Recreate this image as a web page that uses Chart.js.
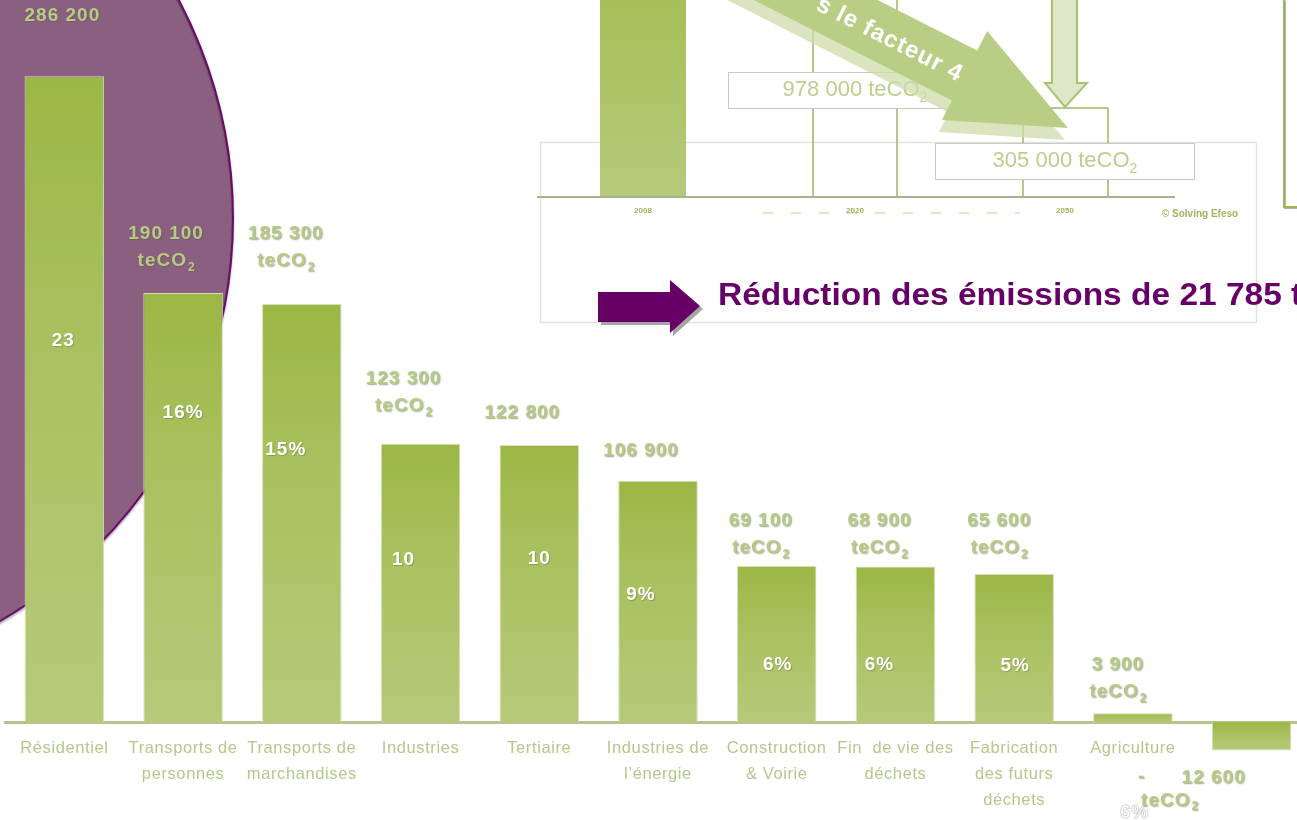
<!DOCTYPE html>
<html lang="fr">
<head>
<meta charset="utf-8">
<title>Émissions par secteur</title>
<script src="https://cdn.jsdelivr.net/npm/chart.js@4.4.1/dist/chart.umd.min.js"></script>
<style>
  html, body { margin:0; padding:0; background:#fff; overflow:hidden; }
  #wrap { position:relative; width:1311px; height:820px; }
</style>
</head>
<body>
<div id="wrap"><canvas id="chart"></canvas></div>
<script>
// --- Data ---
const CATEGORIES = [
  ['Résidentiel'],
  ['Transports de', 'personnes'],
  ['Transports de', 'marchandises'],
  ['Industries'],
  ['Tertiaire'],
  ['Industries de', 'l’énergie'],
  ['Construction', '& Voirie'],
  ['Fin  de vie des', 'déchets'],
  ['Fabrication', 'des futurs', 'déchets'],
  ['Agriculture'],
  ['']
];
const EMISSIONS = [286200, 190100, 185300, 123300, 122800, 106900, 69100, 68900, 65600, 3900, -12600];
const UNIT_SHOWN = [false, true, true, true, false, false, true, true, true, true, true];
const SHARES = ['23', '16%', '15%', '10', '10', '9%', '6%', '6%', '5%', '', ''];
const Y_MAX = 320000;

// inset picture (trajectory 2008 -> 2050)
const INSET_YEARS = ['2008', '2020', '2050'];
const INSET_TOTALS = ['978 000', '305 000'];
const HEADLINE = 'Réduction des émissions de 21 785 teCO2';

// --- label layout, px relative to each bar (style only) ---
const VALUE_LIFT = [60, 59, 70, 65, 32, 30, 45, 46, 53, 48, 0];
const VALUE_DX   = [-2, -17, -16, -17, -17, -17, -16, -16, -15, -15, 0];
const SHARE_DROP = [265, 120, 146, 116, 114, 114, 99, 98, 92, 0, 0];
const SHARE_DX   = [-1, 0, -16, -17, 0, -17, 1, -16, 1, 0, 0];

const FONT = '"Liberation Sans", Arial, sans-serif';
const LABEL_GREEN = '#B7CB84';
const BAR_TOP = '#9BB744', BAR_BOTTOM = '#B6CA7A';

function fmt(n){ return Math.abs(n).toString().replace(/\B(?=(\d{3})+(?!\d))/g, ' '); }

function barFill(c){
  const chart = c.chart;
  if(!chart.chartArea || c.type !== 'data') return BAR_TOP;
  const y = chart.scales.y;
  const a = y.getPixelForValue(c.raw), b = y.getPixelForValue(0);
  const g = chart.ctx.createLinearGradient(0, Math.min(a,b), 0, Math.max(a,b) + 1);
  g.addColorStop(0, BAR_TOP);
  g.addColorStop(0.35, '#A7C05C');
  g.addColorStop(1, BAR_BOTTOM);
  return g;
}

function softText(ctx, txt, x, y, color){
  ctx.save();
  ctx.shadowColor = 'rgba(90,95,70,0.55)';
  ctx.shadowOffsetX = 1; ctx.shadowOffsetY = 1; ctx.shadowBlur = 1.5;
  ctx.fillStyle = color;
  ctx.fillText(txt, x, y);
  ctx.restore();
}

function drawUnit(ctx, cx, cy, size, color){
  ctx.save();
  ctx.font = `bold ${size}px ${FONT}`;
  const w1 = ctx.measureText('teCO').width;
  ctx.font = `bold ${Math.round(size*0.65)}px ${FONT}`;
  const w2 = ctx.measureText('2').width;
  const x0 = cx - (w1 + w2) / 2;
  ctx.textAlign = 'left';
  ctx.font = `bold ${size}px ${FONT}`;
  softText(ctx, 'teCO', x0, cy, color);
  ctx.font = `bold ${Math.round(size*0.65)}px ${FONT}`;
  softText(ctx, '2', x0 + w1 + 1, cy + size*0.35, color);
  ctx.restore();
}

// light unit text, not bold (inset boxes)
function insetTotal(ctx, value, cx, cy){
  ctx.save();
  ctx.fillStyle = '#BAD08C';
  ctx.textBaseline = 'middle';
  ctx.font = `22px ${FONT}`;
  const main = value + ' teCO';
  const w1 = ctx.measureText(main).width;
  ctx.font = `14px ${FONT}`;
  const w2 = ctx.measureText('2').width;
  const x0 = cx - (w1 + w2) / 2;
  ctx.textAlign = 'left';
  ctx.font = `22px ${FONT}`;
  ctx.fillText(main, x0, cy);
  ctx.font = `14px ${FONT}`;
  ctx.fillText('2', x0 + w1, cy + 8);
  ctx.restore();
}

function arrowPath(ctx, len, headLen, headHalf, shaftHalf){
  ctx.beginPath();
  ctx.moveTo(0, 0);
  ctx.lineTo(-headLen, -headHalf);
  ctx.lineTo(-headLen, -shaftHalf);
  ctx.lineTo(-len, -shaftHalf);
  ctx.lineTo(-len, shaftHalf);
  ctx.lineTo(-headLen, shaftHalf);
  ctx.lineTo(-headLen, headHalf);
  ctx.closePath();
}

// background: purple disc, inset trajectory picture, headline
const backdrop = {
  id: 'backdrop',
  beforeDraw(chart){
    const ctx = chart.ctx;
    ctx.save();
    ctx.fillStyle = '#fff';
    ctx.fillRect(0, 0, chart.width, chart.height);

    // purple disc
    ctx.beginPath();
    ctx.arc(-232, 218, 465, 0, Math.PI * 2);
    ctx.fillStyle = '#8B5F80';
    ctx.fill();
    ctx.save();
    ctx.shadowColor = 'rgba(0,0,0,0.35)'; ctx.shadowOffsetY = 2; ctx.shadowBlur = 2;
    ctx.lineWidth = 2; ctx.strokeStyle = '#6B0A6B';
    ctx.stroke();
    ctx.restore();

    // inset frame
    ctx.strokeStyle = '#E1E4D9'; ctx.lineWidth = 1.5;
    ctx.strokeRect(540.5, 142.5, 716, 180);

    // inset 2008 bar
    const g = ctx.createLinearGradient(0, 0, 0, 198);
    g.addColorStop(0, '#A6BF57'); g.addColorStop(1, '#B6CA7B');
    ctx.fillStyle = g;
    ctx.fillRect(600, 0, 86, 198);

    // inset outlines
    ctx.strokeStyle = '#9DB663'; ctx.lineWidth = 1.5;
    ctx.beginPath();
    ctx.moveTo(813, 0); ctx.lineTo(813, 197);
    ctx.moveTo(897, 0); ctx.lineTo(897, 197);
    ctx.moveTo(1023, 108); ctx.lineTo(1023, 197);
    ctx.moveTo(1108, 108); ctx.lineTo(1108, 197);
    ctx.moveTo(1023, 108); ctx.lineTo(1108, 108);
    ctx.stroke();

    // inset axis
    ctx.strokeStyle = '#A7B28C'; ctx.lineWidth = 2;
    ctx.beginPath(); ctx.moveTo(537, 197); ctx.lineTo(1175, 197); ctx.stroke();

    ctx.save();
    ctx.strokeStyle = '#D3E0B4'; ctx.lineWidth = 1.5; ctx.setLineDash([10, 18]);
    ctx.beginPath(); ctx.moveTo(763, 213); ctx.lineTo(1020, 213); ctx.stroke();
    ctx.restore();

    ctx.fillStyle = '#9DB65E';
    ctx.font = `bold 8px ${FONT}`;
    ctx.textAlign = 'center'; ctx.textBaseline = 'middle';
    [643, 855, 1065].forEach((x, i) => ctx.fillText(INSET_YEARS[i], x, 211));
    ctx.font = `bold 10px ${FONT}`;
    ctx.fillText('© Solving Efeso', 1200, 214);

    // 978 000 box (under the arrow)
    ctx.fillStyle = '#fff'; ctx.strokeStyle = '#C9CBC2'; ctx.lineWidth = 1;
    ctx.fillRect(728, 72, 232, 36); ctx.strokeRect(728.5, 72.5, 232, 36);
    insetTotal(ctx, INSET_TOTALS[0], 855, 90);

    // diagonal arrow + its pale copy
    const ang = Math.atan2(52.5, 103.5);
    ctx.save();
    ctx.translate(1065, 140); ctx.rotate(ang);
    arrowPath(ctx, 600, 116, 50, 28);
    ctx.fillStyle = 'rgba(205,220,170,0.75)'; ctx.fill();
    ctx.restore();
    ctx.save();
    ctx.translate(1068, 128); ctx.rotate(ang);
    arrowPath(ctx, 600, 116, 50, 28);
    ctx.fillStyle = '#B9CE85'; ctx.fill();
    ctx.fillStyle = '#fff';
    ctx.font = `bold 24px ${FONT}`;
    ctx.letterSpacing = '1px';
    ctx.textAlign = 'center'; ctx.textBaseline = 'middle';
    ctx.fillText('s le facteur 4', -199, 2);
    ctx.letterSpacing = '0px';
    ctx.restore();

    // vertical arrow
    ctx.beginPath();
    ctx.moveTo(1052, -2); ctx.lineTo(1077, -2); ctx.lineTo(1077, 83);
    ctx.lineTo(1087, 83); ctx.lineTo(1065, 107); ctx.lineTo(1045, 83);
    ctx.lineTo(1052, 83); ctx.closePath();
    ctx.fillStyle = '#DEE8C9'; ctx.fill();
    ctx.strokeStyle = '#A9C46D'; ctx.lineWidth = 2; ctx.stroke();

    // 305 000 box
    ctx.fillStyle = '#fff'; ctx.strokeStyle = '#C9CBC2'; ctx.lineWidth = 1;
    ctx.fillRect(935, 143, 259, 36); ctx.strokeRect(935.5, 143.5, 259, 36);
    insetTotal(ctx, INSET_TOTALS[1], 1065, 161);

    // frame corner at right
    ctx.save();
    ctx.shadowColor = 'rgba(0,0,0,0.3)'; ctx.shadowOffsetX = 1; ctx.shadowOffsetY = 1;
    ctx.strokeStyle = '#9AB84E'; ctx.lineWidth = 2;
    ctx.beginPath(); ctx.moveTo(1284, 0); ctx.lineTo(1284, 207); ctx.lineTo(1311, 207); ctx.stroke();
    ctx.restore();

    // purple arrow + headline
    const purple = (dx, dy, col) => {
      ctx.beginPath();
      ctx.moveTo(598+dx, 292+dy); ctx.lineTo(670+dx, 292+dy); ctx.lineTo(670+dx, 280+dy);
      ctx.lineTo(700+dx, 306+dy); ctx.lineTo(670+dx, 333+dy); ctx.lineTo(670+dx, 322+dy);
      ctx.lineTo(598+dx, 322+dy); ctx.closePath();
      ctx.fillStyle = col; ctx.fill();
    };
    purple(3, 3, '#A5A5A5');
    purple(0, 0, '#660066');
    ctx.save();
    ctx.translate(718, 305);
    ctx.scale(1.08, 1);
    ctx.fillStyle = '#660066';
    ctx.font = `bold 31px ${FONT}`;
    ctx.textAlign = 'left'; ctx.textBaseline = 'alphabetic';
    ctx.fillText(HEADLINE, 0, 0);
    ctx.restore();
    ctx.restore();
    // slightly spaced lettering for the category labels drawn next
    ctx.letterSpacing = '0.6px';
  }
};

// value and share labels next to bars
const barLabels = {
  id: 'barLabels',
  afterDatasetsDraw(chart){
    const ctx = chart.ctx;
    const bars = chart.getDatasetMeta(0).data;
    ctx.save();
    ctx.textAlign = 'center'; ctx.textBaseline = 'middle';
    ctx.letterSpacing = '1px';
    bars.forEach((bar, i) => {
      const v = EMISSIONS[i];
      if(v < 0){
        const bottom = bar.y;
        ctx.font = `bold 19px ${FONT}`;
        softText(ctx, '-', bar.x - 110, bottom + 26, LABEL_GREEN);
        softText(ctx, fmt(v), bar.x - 38, bottom + 27, LABEL_GREEN);
        ctx.save();
        ctx.globalAlpha = 0.55;
        ctx.fillStyle = '#fff'; ctx.strokeStyle = '#9A9A9A'; ctx.lineWidth = 1;
        ctx.strokeText('6%', bar.x - 117, bottom + 62);
        ctx.fillText('6%', bar.x - 117, bottom + 62);
        ctx.restore();
        drawUnit(ctx, bar.x - 82, bottom + 50, 19, LABEL_GREEN);
        return;
      }
      const x = bar.x + VALUE_DX[i];
      const y = bar.y - VALUE_LIFT[i];
      ctx.font = `bold 19px ${FONT}`;
      softText(ctx, fmt(v), x, y, LABEL_GREEN);
      if(UNIT_SHOWN[i]) drawUnit(ctx, x, y + 27, 19, LABEL_GREEN);
      if(SHARES[i]){
        ctx.save();
        ctx.shadowColor = 'rgba(80,90,50,0.35)'; ctx.shadowOffsetX = 1; ctx.shadowOffsetY = 1; ctx.shadowBlur = 1;
        ctx.fillStyle = '#fff';
        ctx.font = `bold 19px ${FONT}`;
        ctx.fillText(SHARES[i], bar.x + SHARE_DX[i], bar.y + SHARE_DROP[i]);
        ctx.restore();
      }
    });
    ctx.restore();
  }
};

new Chart(document.getElementById('chart'), {
  type: 'bar',
  data: {
    labels: CATEGORIES,
    datasets: [{
      data: EMISSIONS,
      backgroundColor: barFill,
      borderColor: '#D6E0BE',
      borderWidth: 1,
      barPercentage: 0.67,
      categoryPercentage: 1,
      clip: false
    }]
  },
  options: {
    responsive: true,
    maintainAspectRatio: false,
    animation: false,
    layout: { padding: { left: 5, right: 0, top: 0, bottom: 0 } },
    plugins: { legend: { display: false }, tooltip: { enabled: false } },
    scales: {
      x: {
        grid: { display: false, drawTicks: false },
        border: { color: '#B3C58C', width: 3 },
        ticks: {
          color: '#B4C88A',
          font: { family: FONT, size: 16.5, lineHeight: 1.58 },
          padding: 13,
          maxRotation: 0,
          autoSkip: false
        },
        afterFit(scale){ scale.height = 98; }
      },
      y: { display: false, min: 0, max: Y_MAX }
    }
  },
  plugins: [backdrop, barLabels]
});
</script>
</body>
</html>
